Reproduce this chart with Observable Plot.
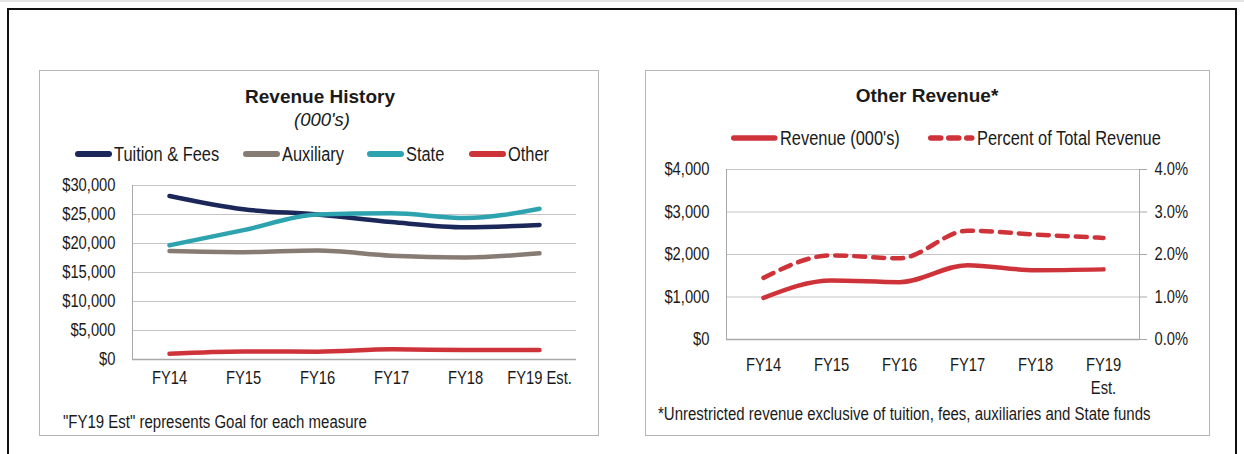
<!DOCTYPE html>
<html><head><meta charset="utf-8">
<script src="https://cdn.jsdelivr.net/npm/d3@7"></script>
<script src="https://cdn.jsdelivr.net/npm/@observablehq/plot@0.6"></script>
<style>
html,body{margin:0;padding:0;background:#fff;}
#root{position:relative;width:1244px;height:454px;overflow:hidden;font-family:"Liberation Sans",Arial,sans-serif;color:#1a1a1a;}
.abs{position:absolute;white-space:nowrap;}
.panel{position:absolute;border:1.5px solid #b5b5b5;box-sizing:border-box;}
.title{font-weight:bold;font-size:19px;line-height:20px;transform:translateX(-50%);}
.sub{font-style:italic;font-size:18.5px;line-height:20px;transform:translateX(-50%);}
.leg{font-size:20px;line-height:20px;display:flex;align-items:center;}
.leg svg{display:block;margin-right:2px;}
.cap{font-size:18.3px;line-height:20px;}
.narrow{display:inline-block;transform:scaleX(0.82);transform-origin:0 50%;}
.plot{position:absolute;}
</style>
</head><body>
<div id="root">
  <div class="abs" style="left:0;top:0;width:1244px;height:2px;background:#e3e3e3"></div>
  <div class="abs" style="left:7px;top:8px;width:1230px;height:460px;border-top:2px solid #111;border-left:2px solid #111;border-right:2px solid #111;box-sizing:border-box"></div>
  <div class="panel" style="left:39px;top:70px;width:560px;height:366px"></div>
  <div class="panel" style="left:645px;top:70px;width:565px;height:366px"></div>
  <div class="abs title" style="left:320px;top:87px">Revenue History</div>
  <div class="abs sub" style="left:322px;top:110px">(000's)</div>
  <div class="abs title" style="left:927px;top:86px">Other Revenue*</div>
  <div id="legL"></div>
  <div id="legR"></div>
  <div class="abs cap" style="left:63px;top:412px"><span class="narrow">"FY19 Est" represents Goal for each measure</span></div>
  <div class="abs cap" style="left:658px;top:404px"><span class="narrow">*Unrestricted revenue exclusive of tuition, fees, auxiliaries and State funds</span></div>
  <div id="plotL" class="plot" style="left:40px;top:170px"></div>
  <div id="plotR" class="plot" style="left:645px;top:155px"></div>
</div>
<script>
// ---- data ----
const years = ["FY14", "FY15", "FY16", "FY17", "FY18", "FY19 Est."];
const seriesNames = ["Tuition & Fees", "Auxiliary", "State", "Other"];
const tuitionFees = [28200, 25900, 25000, 23700, 22800, 23200];
const auxiliary = [18700, 18500, 18800, 17900, 17600, 18300];
const state = [19700, 22300, 25000, 25200, 24400, 26000];
const otherRevenue = [980, 1390, 1350, 1750, 1630, 1650];
const otherPercent = [1.45, 1.98, 1.91, 2.56, 2.47, 2.39];
const leftTicks = [0, 5000, 10000, 15000, 20000, 25000, 30000];
const rightTicks = [0, 1000, 2000, 3000, 4000];
const rightSeries = ["Revenue (000's)", "Percent of Total Revenue"];

// ---- styles ----
const colors = ["#1b2659", "#877c74", "#2ea3b0", "#cf333a"];
const gridColor = "#c4c4c4";
const axisColor = "#a8a8a8";
const tickFont = '"Liberation Sans",Arial,sans-serif';
const squeeze = 0.82;

const seriesValues = [tuitionFees, auxiliary, state, otherRevenue];
const leftData = seriesNames.flatMap((s, si) => years.map((y, i) => ({series: s, year: y, value: seriesValues[si][i]})));
const rightRev = years.map((y, i) => ({year: y, value: otherRevenue[i]}));
const pctScale = d3.scaleLinear().domain([0, 4]).range([0, 4000]);
const rightPct = years.map((y, i) => ({year: y, value: pctScale(otherPercent[i])}));

const dollar = d => "$" + d3.format(",")(d);

function narrowTexts(svg) {
  svg.querySelectorAll("text").forEach(t => {
    let tr = t.getAttribute("transform");
    if (!tr) {
      const x = +t.getAttribute("x") || 0, y = +t.getAttribute("y") || 0;
      t.removeAttribute("x");
      t.setAttribute("y", 0);
      tr = `translate(${x},${y})`;
    }
    t.setAttribute("transform", tr + ` scale(${squeeze},1)`);
  });
  return svg;
}

const plotL = Plot.plot({
  width: 558, height: 230,
  marginLeft: 92, marginRight: 22, marginTop: 15, marginBottom: 41,
  style: {fontFamily: tickFont, fontSize: "18px", color: "#1a1a1a", background: "transparent", overflow: "visible"},
  x: {type: "point", domain: years, padding: 0.5, label: null},
  y: {domain: [0, 30000], label: null},
  color: {domain: seriesNames, range: colors},
  marks: [
    Plot.gridY(leftTicks, {stroke: gridColor, strokeOpacity: 1}),
    Plot.frame({anchor: "left", stroke: axisColor}),
    Plot.ruleY([0], {stroke: axisColor, strokeWidth: 1.5}),
    Plot.axisY(leftTicks, {tickSize: 0, tickPadding: 17, tickFormat: dollar, label: null}),
    Plot.axisX({tickSize: 0, tickPadding: 12, label: null}),
    Plot.lineY(leftData, {x: "year", y: "value", z: "series", stroke: "series", strokeWidth: 4.5, curve: "monotone-x", strokeLinecap: "round"})
  ]
});
document.getElementById("plotL").appendChild(narrowTexts(plotL));

const plotR = Plot.plot({
  width: 564, height: 250,
  marginLeft: 81, marginRight: 70, marginTop: 14, marginBottom: 66,
  style: {fontFamily: tickFont, fontSize: "18px", color: "#1a1a1a", background: "transparent", overflow: "visible"},
  x: {type: "point", domain: years, padding: 0.5, label: null},
  y: {domain: [0, 4000], label: null},
  marks: [
    Plot.gridY(rightTicks, {stroke: gridColor, strokeOpacity: 1}),
    Plot.frame({anchor: "left", stroke: axisColor}),
    Plot.frame({anchor: "right", stroke: axisColor}),
    Plot.ruleY([0], {stroke: axisColor, strokeWidth: 1.5}),
    Plot.axisY(rightTicks, {tickSize: 0, tickPadding: 17, tickFormat: dollar, label: null}),
    Plot.axisY(rightTicks, {anchor: "right", tickSize: 7, tickPadding: 8, stroke: axisColor, fill: "#1a1a1a",
      tickFormat: d => pctScale.invert(d).toFixed(1) + "%", label: null}),
    Plot.axisX({tickSize: 0, tickPadding: 16, lineHeight: 1.25, tickFormat: d => d.replace(" ", "\n"), label: null}),
    Plot.lineY(rightRev, {x: "year", y: "value", stroke: colors[3], strokeWidth: 4.5, curve: "monotone-x", strokeLinecap: "round"}),
    Plot.lineY(rightPct, {x: "year", y: "value", stroke: colors[3], strokeWidth: 4.5, curve: "monotone-x", strokeDasharray: "11,8", strokeLinecap: "round"})
  ]
});
document.getElementById("plotR").appendChild(narrowTexts(plotR));

// ---- legends ----
function swatch(color, len, w, dash) {
  const ns = "http://www.w3.org/2000/svg";
  const svg = document.createElementNS(ns, "svg");
  svg.setAttribute("width", len + w);
  svg.setAttribute("height", 10);
  const l = document.createElementNS(ns, "line");
  l.setAttribute("x1", w / 2); l.setAttribute("x2", len + w / 2);
  l.setAttribute("y1", 5); l.setAttribute("y2", 5);
  l.setAttribute("stroke", color); l.setAttribute("stroke-width", w);
  l.setAttribute("stroke-linecap", "round");
  if (dash) l.setAttribute("stroke-dasharray", dash);
  svg.appendChild(l);
  return svg;
}
function legendItem(parent, x, y, color, label, len, w, dash) {
  const d = document.createElement("div");
  d.className = "abs leg";
  d.style.left = x + "px"; d.style.top = (y - 10) + "px";
  d.appendChild(swatch(color, len, w, dash));
  const t = document.createElement("span"); t.textContent = label; t.className = "narrow";
  d.appendChild(t);
  parent.appendChild(d);
}
const legL = document.getElementById("legL");
const legLx = [75, 243, 367, 469];
seriesNames.forEach((s, i) => legendItem(legL, legLx[i], 154, colors[i], s, 31, 6));
const legR = document.getElementById("legR");
legendItem(legR, 731, 138, colors[3], rightSeries[0], 41, 5.5);
legendItem(legR, 928, 138, colors[3], rightSeries[1], 41, 5.5, "10,8");
</script>
</body></html>
